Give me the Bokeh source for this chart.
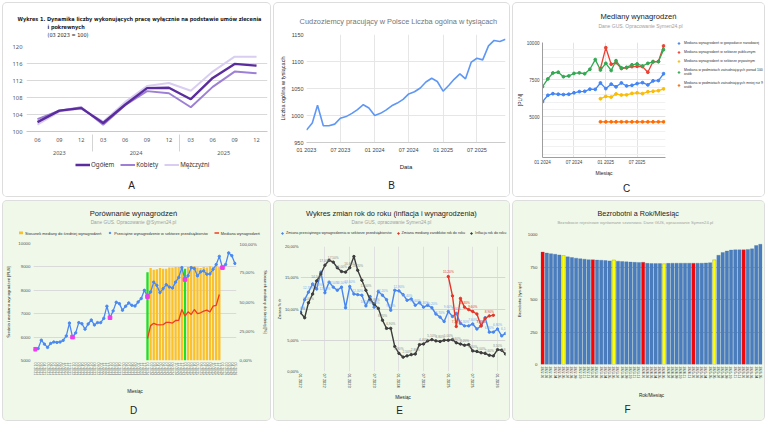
from datetime import datetime

from bokeh.core.properties import value
from bokeh.embed import file_html
from bokeh.layouts import column, row
from bokeh.models import (ColumnDataSource, DatetimeTickFormatter, FactorRange, FixedTicker,
                          LabelSet, Legend, LegendItem, LinearAxis, Range1d, Title)
from bokeh.plotting import figure
from bokeh.resources import INLINE

SANS = "Liberation Sans"
GUS = "Noto Sans"
NARROW = "Liberation Sans Narrow, DejaVu Sans Condensed, Liberation Sans"
WHITE = "#ffffff"
MINT = "#f0f9e9"
LH = 1.15  # rendered height of one text line, in font sizes

# ------------------------------------------------------------------ data
# A: umowy zlecenia, indeks 03 2023 = 100
a_years = ["2023", "2023", "2023", "2024", "2024", "2024", "2024", "2025", "2025", "2025", "2025"]
a_quarters = ["06", "09", "12", "03", "06", "09", "12", "03", "06", "09", "12"]
a_total = [102.2, 104.9, 105.5, 102.0, 106.3, 110.2, 110.3, 107.6, 112.6, 115.9, 115.5]
a_women = [102.9, 104.9, 105.7, 101.6, 106.2, 109.5, 109.0, 105.7, 110.5, 114.1, 113.7]
a_men = [101.6, 104.7, 105.4, 102.3, 106.9, 110.7, 111.4, 109.6, 114.1, 117.6, 117.6]
a_yticks = [100, 104, 108, 112, 116, 120]

# B: cudzoziemcy pracujący w Polsce [tys.], 01 2023 - 12 2025
b_foreigners = [973, 986, 1019, 981, 981, 984, 995, 998, 1004, 1011, 1020, 1014,
                1000, 1004, 1010, 1018, 1023, 1030, 1040, 1044, 1051, 1062, 1069, 1063,
                1045, 1056, 1067, 1077, 1068, 1099, 1106, 1103, 1129, 1139, 1137, 1141]
b_yticks = [950, 1000, 1050, 1100, 1150]
b_xticks = ["01 2023", "07 2023", "01 2024", "07 2024", "01 2025", "07 2025"]

# C: mediany wynagrodzeń [PLN], 01 2024 - 12 2025 (sektory od 12 2024)
c_national = [6020, 6450, 6560, 6520, 6500, 6520, 6620, 6700, 6720, 6860, 6850, 7280,
              6900, 7200, 7020, 7280, 7080, 7120, 7240, 7300, 7150, 7420, 7440, 7900]
c_public = [8250, 9650, 8540, 8650, 8250, 8300, 8380, 8400, 8380, 8000, 8720, 8720, 9770]
c_private = [6220, 6380, 6330, 6540, 6470, 6480, 6580, 6620, 6560, 6690, 6720, 6760, 6880]
c_big = [7030, 7550, 7950, 8000, 7700, 7750, 7920, 7960, 7900, 8200, 8850, 8150,
         8600, 8120, 8780, 8300, 8330, 8500, 8560, 8420, 8600, 8700, 8720, 9520]
c_small = [4666, 4666, 4666, 4666, 4666, 4666, 4666, 4666, 4666, 4666, 4666, 4666, 4666]
c_yticks = [5000, 7500, 10000]
c_xticks = ["01 2024", "07 2024", "01 2025", "07 2025"]

# D: przeciętne wynagrodzenie 01 2021 - 05 2026, mediana i stosunek 01 2024 - 12 2025
d_avg = [5480, 5510, 5870, 5700, 5560, 5730, 5790, 5770, 5790, 5860, 6050, 6600,
         6000, 6180, 6620, 6570, 6340, 6560, 6730, 6520, 6620, 6620, 6800, 7320,
         6830, 7120, 7490, 7430, 7150, 7320, 7460, 7360, 7330, 7500, 7650, 8000,
         7730, 7930, 8350, 8210, 7900, 8070, 8240, 8140, 8100, 8350, 8550, 8970,
         8460, 8620, 8970, 8930, 8620, 8790, 8830, 8690, 8700, 8900, 9100, 9450,
         8970, 9100, 9600, 9480, 9150]
d_median = [5940, 6490, 6590, 6530, 6520, 6530, 6630, 6630, 6600, 6710, 6720, 7180,
            6900, 7080, 6970, 7180, 7000, 7040, 7110, 7150, 7080, 7320, 7360, 7820]
d_ratio = [75.5, 79.0, 77.5, 78.0, 79.0, 78.5, 78.5, 79.5, 79.5, 80.0, 80.0, 79.5,
           78.5, 80.0, 80.5, 80.5, 79.5, 79.0, 80.0, 79.5, 80.5, 80.0, 80.5, 80.0]
d_yticks = [5000, 6000, 7000, 8000, 9000, 10000]
d_pct_ticks = [0, 25, 50, 75, 100]

# E: zmiany rok do roku [%], 01 2022 - 03 2026 (mediana 01 2025 - 12 2025)
e_wage = [9.5, 11.5, 12.7, 14.0, 13.2, 15.9, 12.6, 14.3, 13.5, 13.0, 13.5, 10.2,
          13.6, 12.4, 12.3, 12.2, 10.5, 12.0, 10.3, 12.8, 12.2, 11.5, 9.8, 13.0,
          12.9, 12.3, 11.4, 11.6, 10.6, 11.0, 10.3, 10.6, 10.2, 9.2, 8.7, 8.0,
          9.6, 8.8, 9.3, 7.7, 7.3, 7.3, 7.6, 6.8, 7.3, 8.6, 6.3, 6.3, 6.8, 5.7, 6.1]
e_median = [15.2, 12.1, 7.2, 11.7, 10.3, 9.9, 9.6, 9.2, 7.3, 8.5, 8.9, 9.0]
e_cpi = [9.4, 8.6, 11.0, 12.4, 14.5, 15.6, 17.0, 17.8, 17.5, 16.6,
         16.0, 15.9, 16.6, 18.4, 16.2, 14.6, 13.0, 11.5, 10.8, 10.1,
         8.2, 6.9, 6.9, 4.0, 2.9, 2.3, 2.5, 2.7, 2.8, 4.3,
         4.4, 4.9, 5.1, 4.9, 4.8, 5.0, 5.0, 5.1, 4.6, 4.4,
         4.2, 4.3, 3.3, 3.2, 3.0, 2.9, 2.6, 2.5, 3.5, 3.4, 2.8]
e_yticks = [0, 5, 10, 15, 20]
e_xticks = ["01 2022", "07 2022", "01 2023", "07 2023", "01 2024", "07 2024",
            "01 2025", "07 2025", "01 2026"]

# F: bezrobotni [tys.], wyrównane sezonowo, 2022-01 - 2026-05
f_unemployed = [865, 857, 852, 848, 843, 838, 828, 823, 818, 814, 810, 806,
                806, 803, 802, 800, 797, 804, 795, 792, 790, 788, 786, 785,
                786, 778, 777, 776, 776, 775, 778, 779, 779, 779, 779, 779,
                779, 779, 779, 781, 783, 805, 840, 862, 873, 880, 882, 882,
                882, 885, 890, 915, 925]
f_yticks = [0, 250, 500, 750, 1000]

# ------------------------------------------------------------------ helpers
# approximate advance widths (1/1000 em) of Liberation Sans, for centring titles
_W = {" ": 278, "%": 889, "(": 333, ")": 333, ",": 278, "-": 333, ".": 278, "/": 278,
      ":": 278, "=": 584, "@": 1015, "[": 278, "]": 278,
      "A": 667, "B": 667, "C": 722, "D": 722, "E": 667, "F": 611, "G": 778, "H": 722,
      "I": 278, "L": 556, "M": 833, "N": 722, "O": 778, "P": 667, "R": 722, "S": 667,
      "T": 611, "U": 722, "W": 944, "Z": 611,
      "c": 500, "f": 278, "i": 222, "j": 222, "k": 500, "l": 222, "m": 833, "r": 333,
      "s": 500, "t": 278, "v": 500, "w": 722, "x": 500, "y": 500, "z": 500,
      "ć": 500, "ł": 222, "ś": 500, "ź": 500, "ż": 500}
CARD_STYLE = {"box-shadow": "0 0 0 1px #dddddd", "border-radius": "4px", "overflow": "hidden"}


def tw(text, size):
    return sum(_W.get(ch, 556) for ch in text) * size / 1000.0


def months(year, month, count):
    out = []
    for i in range(count):
        y, m = divmod(month - 1 + i, 12)
        out.append(datetime(year + y, m + 1, 1))
    return out


def ms(d):
    return (d - datetime(1970, 1, 1)).total_seconds() * 1000.0


def tick_ms(labels):
    return [ms(datetime.strptime(s, "%m %Y")) for s in labels]


def pct(v):
    return f"{v:.2f}".replace(".", ",") + "%"


def no_align(p):
    try:
        p.frame_align = False
    except AttributeError:
        pass
    return p


def fig(box, frame, bg, **kw):
    """A plot whose frame sits at the given page rectangle (left, right, top, bottom)."""
    cx, cy, w, h = box
    left, right, top, bottom = frame
    ml, mr = round(left - cx), round(cx + w - right)
    mt, mb = round(top - cy), round(cy + h - bottom)
    p = figure(width=w, height=h, output_backend="svg", toolbar_location=None, title=None,
               min_border_left=ml, min_border_right=mr, min_border_top=mt, min_border_bottom=mb,
               background_fill_color=bg, border_fill_color=bg, outline_line_color=None, **kw)
    return no_align(p), (cx + ml, cy + mt, cy + h - mb)


def strip(box, bg, top=0, bottom=0):
    """An axis-free strip holding titles and a legend (unit ranges)."""
    cx, cy, w, h = box
    p = figure(width=w, height=h, output_backend="svg", toolbar_location=None, title=None,
               x_axis_location=None, y_axis_location=None, x_range=Range1d(0, 1),
               y_range=Range1d(0, 1), min_border_left=0, min_border_right=0,
               min_border_top=top, min_border_bottom=bottom, background_fill_color=bg,
               border_fill_color=bg, outline_line_color=None)
    p.grid.visible = False
    return no_align(p), (cx, cy + top, cy + h - bottom)


def boxed(obj, bg):
    obj.styles = dict(CARD_STYLE, **{"background-color": bg})
    return obj


def title(p, side, text, size, color="#222222", offset=0.0, standoff=0.0, style="normal",
          font=SANS):
    p.add_layout(Title(text=text, text_font=font, text_font_size=f"{size}px",
                       text_font_style=style, text_color=color, align="left",
                       offset=offset, standoff=max(int(round(standoff)), 0)), side)


def stack_above(p, fr, cursor, specs):
    """Titles above the frame, listed from the frame outward; each is
    (text, size, color, x, y_centre, centred, style, font)."""
    for text, size, color, x, cy, centred, style, font in specs:
        h = LH * size
        bottom = cy + h / 2
        gap = cursor - bottom
        standoff = 0.0
        if gap >= 2 + LH:
            title(p, "above", " ", 1, standoff=gap - 2 - LH)
            cursor = bottom
        elif gap > 0:
            standoff = 2 * gap
        off = (x - fr[0]) if not centred else (x - tw(text, size) / 2 - fr[0])
        title(p, "above", text, size, color, off, standoff, style, font)
        cursor = cursor - 2 - h - standoff


def letter(p, fr, axis_h, text, cx, cy, size=10):
    h = LH * size
    top = fr[2] + axis_h
    standoff = 2 * (cy - 2.5 - top - 2 - h / 2)
    title(p, "below", text, size, "#222222", cx - tw(text, size) / 2 - fr[0], standoff)


def plain_axis(ax, size, color="#444444", font=SANS, standoff=3):
    ax.axis_line_color = None
    ax.major_tick_line_color = None
    ax.minor_tick_line_color = None
    ax.major_tick_out = 0
    ax.minor_tick_out = 0
    ax.major_label_standoff = int(round(standoff))
    ax.major_label_text_font = font
    ax.major_label_text_font_size = f"{size}px"
    ax.major_label_text_color = color
    ax.axis_label_text_font = font
    ax.axis_label_text_font_style = "normal"
    ax.axis_label_text_color = "#222222"


def axis_title(ax, text, size, standoff):
    ax.axis_label = text
    ax.axis_label_text_font_size = f"{size}px"
    ax.axis_label_standoff = int(round(standoff))


def date_fmt():
    f = "%m %Y"
    return DatetimeTickFormatter(milliseconds=f, seconds=f, minsec=f, minutes=f, hourmin=f,
                                 hours=f, days=f, months=f, years=f)


def make_legend(items, loc, size, orientation="horizontal", font=SANS, margin=0, **kw):
    return Legend(items=items, location=loc, orientation=orientation, border_line_color=None,
                  background_fill_alpha=0, label_text_font=font, label_text_font_size=f"{size}px",
                  label_text_color="#333333", padding=0, margin=margin, label_width=0, **kw)


def key(p, kind, style, vals):
    """Legend swatch in a strip: the series' own values lie outside the strip's unit
    ranges, so only the legend sample is painted."""
    if kind == "line":
        return p.line(vals[:2], vals[:2], **style)
    if kind == "bar":
        return p.vbar(x=vals[:1], top=vals[:1], bottom=vals[:1], width=0.5, **style)
    return p.scatter(vals[:1], vals[:1], marker=kind, **style)


# ------------------------------------------------------------------ A
a_x = list(zip(a_years, a_quarters))
a_styles = [("Ogółem", "total", a_total, dict(line_color="#5b2c9d", line_width=2.4)),
            ("Kobiety", "women", a_women, dict(line_color="#9d80d6", line_width=2)),
            ("Mężczyźni", "men", a_men, dict(line_color="#d9cef1", line_width=2))]
pa, fa = fig((3, 3, 267, 154), (26, 267, 45.7, 131), WHITE,
             x_range=FactorRange(factors=a_x, range_padding=0, group_padding=0),
             y_range=Range1d(100, 120))
src_a = ColumnDataSource(dict(x=a_x, total=a_total, women=a_women, men=a_men))
for _, col, _, st in reversed(a_styles):
    pa.line("x", col, source=src_a, **st)
plain_axis(pa.yaxis[0], 5.8, "#555555", GUS, standoff=4)
pa.yaxis.ticker = FixedTicker(ticks=a_yticks)
xa = pa.xaxis[0]
plain_axis(xa, 5.6, "#555555", GUS, standoff=6)
xa.axis_line_color = "#c8c8c8"
xa.group_text_font = GUS
xa.group_text_font_size = "5.6px"
xa.group_text_font_style = "normal"
xa.group_text_color = "#555555"
xa.separator_line_color = "#d4d4d4"
xa.separator_line_width = 1
pa.xgrid.grid_line_color = None
pa.ygrid.grid_line_color = "#d9d9d9"
A_HEAD = "Dynamika liczby wykonujących pracę wyłącznie na podstawie umów zlecenia"
stack_above(pa, fa, fa[1], [
    ("(03 2023 = 100)", 5.5, "#1a1a1a", 47, 33.3, False, "normal", NARROW),
    ("i pokrewnych", 5.5, "#1a1a1a", 47, 25.3, False, "bold", NARROW),
    ("Wykres 1.   " + A_HEAD, 5.5, "#1a1a1a", 17, 17.3, False, "bold", NARROW),
])
la, fla = strip((3, 157, 267, 39), WHITE, 0, 24)
la.add_layout(make_legend([LegendItem(label=name, renderers=[key(la, "line", st, vals)])
                           for name, _, vals, st in a_styles],
                          "center_left", 6.2, font=GUS, margin=72, glyph_width=15,
                          glyph_height=6, label_height=6, spacing=6, label_standoff=1))
letter(la, fla, 0, "A", 131, 188)
card_a = boxed(column(pa, la, spacing=0), WHITE)

# ------------------------------------------------------------------ B
b_dates = months(2023, 1, len(b_foreigners))
pb, fb = fig((274, 3, 235, 193), (305.5, 504.5, 34.3, 147), WHITE, x_axis_type="datetime",
             x_range=Range1d(b_dates[0], b_dates[-1]), y_range=Range1d(950, 1150))
pb.line(b_dates, b_foreigners, line_color="#5e97f6", line_width=1.6)
plain_axis(pb.xaxis[0], 5.5, standoff=4)
plain_axis(pb.yaxis[0], 5.5, standoff=3)
pb.xaxis.ticker = FixedTicker(ticks=tick_ms(b_xticks))
pb.xaxis.formatter = date_fmt()
pb.yaxis.ticker = FixedTicker(ticks=b_yticks)
axis_title(pb.xaxis[0], "Data", 6, 8)
axis_title(pb.yaxis[0], "Liczba ogólna w tysiącach", 5.5, 2)
pb.xaxis.axis_line_color = "#cccccc"
pb.xgrid.grid_line_color = "#e6e6e6"
pb.ygrid.grid_line_color = "#e6e6e6"
stack_above(pb, fb, fb[1], [
    ("Cudzoziemcy pracujący w Polsce Liczba ogólna w tysiącach", 7.4, "#757575", 398, 20.5,
     True, "normal", SANS),
])
letter(pb, fb, 4 + 5.5 * LH + 8 + 6 * LH, "B", 391, 188)
boxed(pb, WHITE)

# ------------------------------------------------------------------ C
c_dates = months(2024, 1, len(c_national))
c_tail = c_dates[len(c_national) - len(c_public):]
c_series = [
    ("Mediana wynagrodzeń w gospodarce narodowej", c_dates, c_national, "#4285f4"),
    ("Mediana wynagrodzeń w sektorze publicznym", c_tail, c_public, "#ea4335"),
    ("Mediana wynagrodzeń w sektorze prywatnym", c_tail, c_private, "#fbbc04"),
    ("Mediana w podmiotach zatrudniających ponad 100\nosób", c_dates, c_big, "#34a853"),
    ("Mediana w podmiotach zatrudniających mniej niż 9\nosób", c_tail, c_small, "#ff6d01"),
]
ct, fct = strip((513, 3, 251, 32), WHITE, 25, 0)
stack_above(ct, fct, fct[1], [
    ("Dane GUS. Opracowanie Symen24.pl", 5, "#9e9e9e", 640, 25.3, True, "normal", SANS),
    ("Mediany wynagrodzeń", 7.6, "#222222", 638, 15.7, True, "normal", SANS),
])
pc, fc = fig((513, 35, 157, 161), (538.7, 665.3, 42.3, 158.3), WHITE, x_axis_type="datetime",
             x_range=Range1d(c_dates[0], datetime(2025, 12, 12)), y_range=Range1d(2270, 10000))
for name, xs, ys, col in c_series:
    pc.line(xs, ys, line_color=col, line_width=1.3)
    pc.scatter(xs, ys, marker="circle", size=2.8, color=col)
plain_axis(pc.xaxis[0], 4.6, standoff=2)
plain_axis(pc.yaxis[0], 4.6, standoff=3)
pc.xaxis.axis_line_color = "#9e9e9e"
pc.yaxis.axis_line_color = "#9e9e9e"
pc.xaxis.ticker = FixedTicker(ticks=tick_ms(c_xticks))
pc.xaxis.formatter = date_fmt()
pc.yaxis.ticker = FixedTicker(ticks=c_yticks, minor_ticks=list(range(2500, 10000, 500)))
pc.ygrid.minor_grid_line_color = "#f1f1f1"
pc.xgrid.grid_line_color = "#e3e3e3"
pc.ygrid.grid_line_color = "#e3e3e3"
axis_title(pc.xaxis[0], "Miesiąc", 5, 2)
axis_title(pc.yaxis[0], "[PLN]", 5, 1)
letter(pc, fc, 2 + 4.6 * LH + 2 + 5 * LH, "C", 623, 186)
lc, flc = strip((670, 35, 94, 161), WHITE, 0, 0)
lc.add_layout(make_legend([LegendItem(label=name,
                                      renderers=[key(lc, "circle", dict(size=2.8, color=col), ys)])
                           for name, _, ys, col in c_series],
                          "top_left", 3.5, orientation="vertical", margin=6, glyph_width=5,
                          glyph_height=4, label_height=4, spacing=5, label_standoff=3))
card_c = boxed(column(ct, row(pc, lc, spacing=0), spacing=0), WHITE)

# ------------------------------------------------------------------ D
d_months = [f"{m:02d} {y}" for y in range(2021, 2027) for m in range(1, 13)][:len(d_avg)]
d_med_months = d_months[36:36 + len(d_median)]
d_keys = [("Stosunek mediany do średniej wynagrodzeń", "bar",
           dict(fill_color="#fbc02d", line_color=None), d_ratio),
          ("Przeciętne wynagrodzenie w sektorze przedsiębiorstw", "circle",
           dict(size=3, color="#4a89f3"), d_avg),
          ("Mediana wynagrodzeń", "line", dict(line_color="#ef3e1f", line_width=1.3), d_median)]
dd, fdd = strip((3, 201, 267, 40), MINT, 23, 0)
dd.add_layout(make_legend([LegendItem(label=n, renderers=[key(dd, k, st, vals)])
                           for n, k, st, vals in d_keys],
                          "center_left", 3.9, margin=15, glyph_width=5, glyph_height=4,
                          label_height=4, spacing=6, label_standoff=2))
stack_above(dd, fdd, fdd[1], [
    ("Dane GUS. Opracowanie @Symen24.pl", 4.8, "#9e9e9e", 133, 221.7, True, "normal", SANS),
    ("Porównanie wynagrodzeń", 7.6, "#222222", 133, 213.3, True, "normal", SANS),
])
pd_, fd = fig((3, 241, 267, 179), (33.3, 240.5, 243.3, 364.3), MINT,
              x_range=FactorRange(factors=d_months, range_padding=0),
              y_range=Range1d(5000, 10000))
pd_.extra_y_ranges = {"pct": Range1d(0, 100)}
d_bar_colors = ["#22dd22" if m.startswith("01") else "#fbc02d" for m in d_med_months]
pd_.vbar(x=d_med_months, top=d_ratio, width=0.75, y_range_name="pct",
         fill_color=d_bar_colors, line_color=None)
pd_.line(d_months, d_avg, line_color="#4a89f3", line_width=1.3)
pd_.scatter(d_months, d_avg, marker="circle", size=2.4, color="#4a89f3")
pd_.line(d_med_months, d_median, line_color="#ef3e1f", line_width=1.3)
pd_.scatter(d_months[::12], d_avg[::12], marker="square", size=3.6, color="#ee3cee")
plain_axis(pd_.xaxis[0], 3.5, "#555555", standoff=2)
plain_axis(pd_.yaxis[0], 4.4, "#555555", standoff=3)
pd_.xaxis.major_label_orientation = "vertical"
axis_title(pd_.xaxis[0], "Miesiąc", 4.6, 11)
pd_.yaxis.ticker = FixedTicker(ticks=d_yticks)
axis_title(pd_.yaxis[0], "Średnia i mediana wynagrodzeń [PLN]", 4.2, 4)
d_right = LinearAxis(y_range_name="pct", ticker=FixedTicker(ticks=d_pct_ticks),
                     major_label_overrides={t: pct(t) for t in d_pct_ticks})
plain_axis(d_right, 4.4, "#555555", standoff=3)
axis_title(d_right, "Stosunek mediany do średniej [%]", 4.2, 3)
pd_.add_layout(d_right, "right")
pd_.xgrid.grid_line_color = None
pd_.ygrid.grid_line_color = "#dadada"
letter(pd_, fd, 2 + tw("01 2021", 3.5) + 11 + 4.6 * LH, "D", 133, 410)
card_d = boxed(column(dd, pd_, spacing=0), MINT)

# ------------------------------------------------------------------ E
e_dates = months(2022, 1, len(e_wage))
e_med_dates = months(2025, 1, len(e_median))
e_series = [
    ("Zmiana przeciętnego wynagrodzenia w sektorze przedsiębiorstw", e_dates, e_wage,
     "#4a86f0", "#79a9f5"),
    ("Zmiana mediany zarobków rok do roku", e_med_dates, e_median, "#e53528", "#e53528"),
    ("Inflacja rok do roku", e_dates, e_cpi, "#3d3d3d", "#8c8c8c"),
]
de, fde = strip((274, 201, 235, 41), MINT, 23, 0)
de.add_layout(make_legend([LegendItem(label=n, renderers=[key(de, "circle", dict(size=3, color=c), ys)])
                           for n, _, ys, c, _ in e_series],
                          "center_left", 3.7, margin=6, glyph_width=4, glyph_height=4,
                          label_height=4, spacing=4, label_standoff=2))
stack_above(de, fde, fde[1], [
    ("Dane GUS, opracowanie Symen24.pl", 4.8, "#9e9e9e", 391, 221.3, True, "normal", SANS),
    ("Wykres zmian rok do roku (inflacja i wynagrodzenia)", 7.4, "#222222", 391, 212.7, True,
     "normal", SANS),
])
pe, fe = fig((274, 242, 235, 178), (293, 505, 245.7, 370.7), MINT, x_axis_type="datetime",
             x_range=Range1d(e_dates[0], e_dates[-1]), y_range=Range1d(0, 20))
for name, xs, ys, col, lab_col in e_series:
    pe.line(xs, ys, line_color=col, line_width=1.4)
    pe.scatter(xs, ys, marker="circle", size=2.4, color=col)
    src = ColumnDataSource(dict(x=xs[::2], y=ys[::2], t=[pct(v) for v in ys[::2]]))
    pe.add_layout(LabelSet(x="x", y="y", text="t", source=src, y_offset=2.5,
                           text_font=value(SANS), text_font_size="3.2px", text_color=lab_col,
                           text_align="center", text_baseline="bottom"))
plain_axis(pe.xaxis[0], 3.9, "#333333", standoff=2)
plain_axis(pe.yaxis[0], 4, "#444444", standoff=2)
pe.xaxis.ticker = FixedTicker(ticks=tick_ms(e_xticks))
pe.xaxis.formatter = date_fmt()
pe.xaxis.major_label_orientation = "vertical"
axis_title(pe.xaxis[0], "Miesiąc", 4.6, 4)
pe.yaxis.ticker = FixedTicker(ticks=e_yticks)
pe.yaxis.major_label_overrides = {t: pct(t) for t in e_yticks}
axis_title(pe.yaxis[0], "Zmiana % r/r", 3.6, 0)
pe.xgrid.grid_line_color = "#e0e0e0"
pe.ygrid.grid_line_color = "#d6d6d6"
letter(pe, fe, 2 + tw("07 2022", 3.9) + 4 + 4.6 * LH, "E", 392, 406)
card_e = boxed(column(de, pe, spacing=0), MINT)

# ------------------------------------------------------------------ F
f_months = [f"{y}-{m:02d}" for y in range(2022, 2027) for m in range(1, 13)][:len(f_unemployed)]
pf, ff = fig((513, 201, 251, 219), (537.3, 762.3, 234.3, 364.3), MINT,
             x_range=FactorRange(factors=f_months, range_padding=0),
             y_range=Range1d(0, 1000))
f_colors = ["#ff0000" if m.endswith("-01") else "#ffff00" if m.endswith("-06") else "#4a7dbf"
            for m in f_months]
pf.vbar(x=f_months, top=f_unemployed, width=0.8, fill_color=f_colors,
        line_color="#3f6ea8", line_width=0.3)
plain_axis(pf.xaxis[0], 3.2, "#444444", standoff=2)
plain_axis(pf.yaxis[0], 4.4, "#444444", standoff=3)
pf.xaxis.major_label_orientation = "vertical"
axis_title(pf.xaxis[0], "Rok/Miesiąc", 4.6, 12)
pf.yaxis.ticker = FixedTicker(ticks=f_yticks)
axis_title(pf.yaxis[0], "Bezrobotni [tysiące]", 4, 3)
pf.xgrid.grid_line_color = None
pf.ygrid.grid_line_color = "#b8b8b8"
stack_above(pf, ff, ff[1], [
    ("Bezrobocie rejestrowe wyrównane sezonowo. Dane GUS, opracowanie Symen24.pl", 4.2,
     "#9e9e9e", 632, 221, True, "normal", SANS),
    ("Bezrobotni a Rok/Miesiąc", 7.2, "#222222", 634.7, 213.3, True, "normal", SANS),
])
letter(pf, ff, 2 + tw("2022-01", 3.2) + 12 + 4.6 * LH + 1.5, "F", 624, 405)
boxed(pf, MINT)

# ------------------------------------------------------------------ page
page = column(row(card_a, pb, card_c, spacing=4), row(card_d, card_e, pf, spacing=4),
              spacing=5, margin=(3, 0, 0, 3))

with open("out.html", "w") as fh:
    fh.write(file_html(page, INLINE, title="Rynek pracy"))
